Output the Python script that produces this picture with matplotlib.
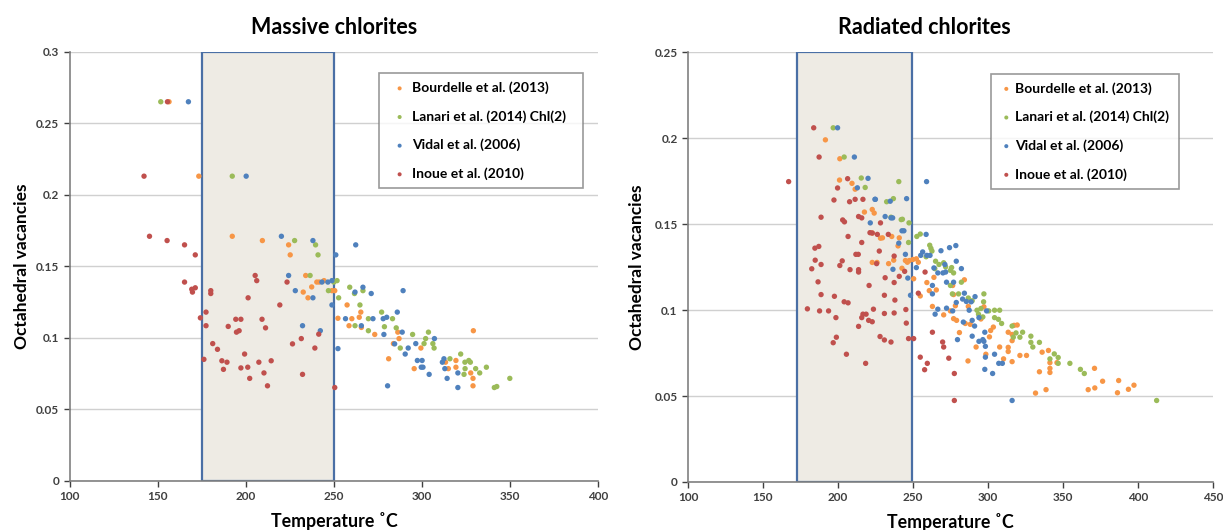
import matplotlib
matplotlib.use("Agg")
import matplotlib.pyplot as plt

plt.rcParams['font.family'] = ['Lato', 'DejaVu Sans']
plt.rcParams['font.weight'] = 'bold'

# colours (Excel 2010 theme)
ORANGE = '#F79646'
GREEN = '#9BBB59'
BLUE = '#4F81BD'
RED = '#C0504D'

labels = ['Bourdelle et al. (2013)', 'Lanari et al. (2014) Chl(2)',
          'Vidal et al. (2006)', 'Inoue et al. (2010)']

# ---------------- Massive chlorites ----------------
m_bourdelle_t = [156.4, 173.3, 192.3, 209.4, 224.3, 225.2, 234, 232.6, 235.3, 237.4, 240.3, 241.7,
                 244.4, 248.9, 250.5, 257.5, 252.3, 260.2, 258.6, 264.4, 265.3, 265.6, 273.2, 287,
                 286.3, 283.8, 281.1, 299.4, 295.6, 319.3, 313.4, 315, 319.3, 327.7, 329, 329, 329.2]
m_bourdelle_v = [0.265, 0.213, 0.171, 0.168, 0.165, 0.158, 0.1436, 0.132, 0.128, 0.1356, 0.139, 0.139,
                 0.140, 0.133, 0.133, 0.123, 0.1137, 0.1134, 0.1085, 0.1144, 0.118, 0.1073, 0.1024, 0.0995,
                 0.104, 0.096, 0.0854, 0.0929, 0.0785, 0.0842, 0.083, 0.0785, 0.0795, 0.0755, 0.0717, 0.0665, 0.105]

m_lanari_t = [151.7, 192.3, 227.7, 239.6, 241, 236.5, 246.9, 250, 251.8, 252.7, 259, 261.7, 266.5,
              264.8, 262, 269.6, 269.6, 277.1, 278.7, 283.3, 285.4, 287.7, 294.7, 303.7, 301.2, 302.1,
              306.2, 306.9, 315.9, 322, 324.4, 326.6, 327.5, 324.5, 323.9, 330.5, 332.8, 336.6, 341.1,
              342.5, 349.9]
m_lanari_v = [0.265, 0.213, 0.168, 0.165, 0.158, 0.1436, 0.133, 0.139, 0.140, 0.128, 0.1354, 0.131, 0.133,
              0.123, 0.1085, 0.1134, 0.105, 0.118, 0.1078, 0.1134, 0.107, 0.0929, 0.1024, 0.104, 0.096, 0.0995,
              0.096, 0.0929, 0.0854, 0.0887, 0.083, 0.0842, 0.083, 0.0785, 0.0745, 0.0785, 0.0755, 0.0795, 0.0653,
              0.066, 0.0717]

m_vidal_t = [167.4, 200.2, 220.2, 238.1, 262.4, 251.1, 224.3, 228.1, 238.1, 243.2, 246.6, 248.9, 248.9,
             232.2, 242.3, 252.3, 256.6, 262, 266.5, 271.2, 265.6, 272.2, 278, 280, 278.4, 286, 288.8,
             289.3, 284.5, 290.5, 292.2, 296.5, 297.4, 300.1, 300.6, 299.6, 307.1, 304.1, 311.6, 312.5,
             313, 314.3, 320.4, 320.4, 280.5]
m_vidal_v = [0.265, 0.213, 0.171, 0.168, 0.165, 0.158, 0.1436, 0.133, 0.128, 0.139, 0.139, 0.140, 0.123,
             0.1085, 0.105, 0.0925, 0.1134, 0.132, 0.1354, 0.131, 0.1085, 0.1134, 0.1134, 0.1144, 0.1024, 0.118, 0.104,
             0.133, 0.0958, 0.0887, 0.0929, 0.096, 0.0842, 0.0842, 0.0795, 0.0795, 0.0995, 0.0745, 0.083, 0.0854,
             0.0785, 0.0717, 0.0755, 0.0653, 0.0665]

m_inoue_t = [142.2, 145.3, 155.3, 155.5, 165.2, 171.3, 165.2, 169.3, 169.7, 171.3, 174.2, 177.4, 177.4,
             176.2, 180.1, 180.1, 181.2, 183.9, 186.4, 187.3, 189.3, 190, 194.3, 197.2, 194.7, 196.2,
             197.2, 199.3, 201.1, 201.3, 202.2, 205.3, 206.2, 207.4, 209.2, 210.3, 211.2, 212.3, 214.4,
             219.3, 223.4, 226.5, 231.5, 232.2, 239.2, 241.4, 250.5]
m_inoue_v = [0.213, 0.171, 0.168, 0.265, 0.165, 0.158, 0.139, 0.134, 0.132, 0.135, 0.114, 0.118, 0.1085,
             0.085, 0.133, 0.131, 0.096, 0.092, 0.084, 0.078, 0.083, 0.108, 0.113, 0.113, 0.104, 0.105,
             0.079, 0.0887, 0.0795, 0.128, 0.0717, 0.1436, 0.140, 0.083, 0.113, 0.0755, 0.107, 0.0665, 0.084,
             0.123, 0.139, 0.0958, 0.0995, 0.0745, 0.0929, 0.1026, 0.0653]

# ---------------- Radiated chlorites ----------------
r_bourdelle_t = [191.6, 201.2, 201, 209.3, 211.4, 217.6, 222.8, 224.1, 222.8, 228.3, 229.6, 235.8, 240.8,
                 240, 222.8, 226, 233.7, 237.1, 242.6, 244.9, 246.2, 247.5, 249.9, 252.2, 253.5, 250.4,
                 254.8, 259.2, 260.8, 263.9, 265.5, 262.9, 270.4, 274.9, 276.4, 277, 278.2, 277, 279,
                 284.2, 280.9, 284.8, 286.8, 286.6, 288.1, 292, 295.2, 297.2, 298.5, 300.9, 301.7, 303.5,
                 307.7, 310.3, 313.4, 313.4, 313.4, 316, 316, 317.3, 319.4, 316, 321.2, 325.6, 331.6,
                 334.2, 336, 340.2, 338.6, 341.2, 341.2, 341.2, 345.9, 366.7, 370.9, 371.1, 376.3, 386.2,
                 387, 393.5, 397.2]
r_bourdelle_v = [0.199, 0.188, 0.1756, 0.1737, 0.1703, 0.157, 0.1585, 0.1564, 0.1448, 0.1418, 0.142, 0.1428, 0.142,
                 0.1373, 0.1277, 0.1277, 0.127, 0.129, 0.1243, 0.1288, 0.1278, 0.1288, 0.1294, 0.1298, 0.1278, 0.1182,
                 0.1082, 0.116, 0.1113, 0.119, 0.1117, 0.1021, 0.0972, 0.0995, 0.1143, 0.109, 0.1025, 0.095, 0.094,
                 0.1176, 0.0869, 0.0922, 0.1021, 0.0704, 0.0917, 0.0785, 0.0948, 0.1019, 0.0743, 0.0844, 0.0881, 0.0901,
                 0.0785, 0.0716, 0.0871, 0.0783, 0.0759, 0.0858, 0.0822, 0.0911, 0.0913, 0.07, 0.0736, 0.0736, 0.0517,
                 0.0641, 0.0755, 0.0765, 0.0537, 0.0694, 0.0637, 0.0661, 0.0694, 0.0537, 0.0661, 0.0547, 0.0586, 0.0519,
                 0.059, 0.0539, 0.0563]

r_lanari_t = [196.8, 204.1, 215.5, 218.1, 240.5, 232.4, 236.9, 235.3, 242.1, 242.9, 247.3, 247, 252.5,
              254.8, 261.1, 261.9, 262.6, 258.7, 265, 264.5, 267.3, 270.4, 271.7, 274.9, 275.7, 277,
              274.9, 276.2, 280.3, 282.2, 286.8, 289.4, 292.6, 293.6, 295.2, 296.5, 297, 297.2, 300.4,
              304.3, 304.3, 306.9, 307.7, 309, 316, 316.8, 318.6, 321.2, 323, 328.5, 328.5, 329.8,
              334.2, 341.2, 344.1, 346.7, 346.7, 354.5, 361.5, 364.1, 412.3]
r_lanari_v = [0.206, 0.189, 0.1768, 0.1713, 0.1747, 0.163, 0.1648, 0.154, 0.1526, 0.1528, 0.1507, 0.1393, 0.1428,
              0.1442, 0.1377, 0.1359, 0.1343, 0.131, 0.1284, 0.1241, 0.1265, 0.1275, 0.1251, 0.1231, 0.1247, 0.1216,
              0.1143, 0.1094, 0.1094, 0.1162, 0.107, 0.1054, 0.0999, 0.0976, 0.1009, 0.096, 0.1048, 0.1094, 0.0995,
              0.0999, 0.0956, 0.0946, 0.0999, 0.0922, 0.0907, 0.0842, 0.0867, 0.0842, 0.0871, 0.0848, 0.0812, 0.0785,
              0.0812, 0.0716, 0.0745, 0.0724, 0.069, 0.069, 0.0655, 0.0631, 0.0474]

r_vidal_t = [199.7, 210.9, 212.9, 220, 224.6, 245.7, 259, 224.9, 231.4, 235.3, 236.4, 234.8, 221.5,
             242.6, 240.5, 243.9, 236.6, 244.9, 246.5, 248.3, 252.2, 255.1, 256.4, 258.7, 259.2, 261.3,
             263.9, 262.9, 262.9, 266.5, 268.6, 264.7, 266.5, 269.9, 271.2, 271.7, 272.3, 272.3, 274.3,
             278.5, 278.8, 277, 276.4, 278.8, 279.6, 282.2, 283, 283.5, 284.2, 285.5, 287.4, 288.7,
             289.4, 291, 291.3, 289.4, 293.9, 293.9, 296.5, 297.2, 298.2, 297.8, 298.2, 299, 303,
             304.3, 307.1, 309.5, 316, 297.8]
r_vidal_v = [0.206, 0.189, 0.1711, 0.1766, 0.1644, 0.1648, 0.1747, 0.1644, 0.1544, 0.1536, 0.1536, 0.1633, 0.1507,
             0.1461, 0.1389, 0.1461, 0.1237, 0.1324, 0.1186, 0.1086, 0.1247, 0.1318, 0.1338, 0.144, 0.1318, 0.1318,
             0.1245, 0.1143, 0.1094, 0.1216, 0.1345, 0.0976, 0.1005, 0.1216, 0.1265, 0.1221, 0.1162, 0.1011, 0.1363,
             0.1375, 0.1284, 0.1162, 0.0995, 0.1044, 0.0828, 0.1241, 0.1064, 0.093, 0.1098, 0.105, 0.0999, 0.1048,
             0.094, 0.0907, 0.1078, 0.0848, 0.0956, 0.0818, 0.0828, 0.0818, 0.0726, 0.0655, 0.0789, 0.0995, 0.0631,
             0.0743, 0.069, 0.069, 0.0474, 0.0871]

r_inoue_t = [167.1, 183.8, 187.4, 188.7, 184.6, 187.2, 184.8, 188.7, 182.5, 186.7, 188.7, 179.6, 187.7,
             193.7, 197.3, 199.7, 197.6, 198.6, 196.8, 198.9, 201.2, 202.8, 206.4, 207.7, 203.1, 204.3,
             206.7, 208, 204.1, 206.7, 205.6, 213.7, 215.8, 218.7, 216.6, 218.4, 211.4, 216.6, 213.7,
             215.8, 215.8, 211.9, 213.5, 213.7, 213.7, 220.7, 220.4, 222.8, 221.3, 222.8, 226.2, 228.3,
             225.7, 223.6, 227.5, 228, 230.9, 230.9, 231.4, 230.9, 233.5, 235.3, 237.4, 237.4, 237.9,
             237.4, 240.8, 245.2, 245.5, 247, 250.4, 244.4, 253.5, 254.8, 258, 259.5, 257.7, 262.9,
             269.7, 270.4, 273.8, 277.5, 277.5]
r_inoue_v = [0.1747, 0.206, 0.189, 0.154, 0.136, 0.137, 0.129, 0.1265, 0.124, 0.1164, 0.109, 0.1007, 0.0995,
             0.0995, 0.164, 0.171, 0.108, 0.0956, 0.081, 0.0842, 0.1259, 0.1286, 0.1764, 0.163, 0.1524, 0.1513,
             0.1428, 0.1235, 0.1048, 0.1042, 0.0743, 0.0905, 0.0956, 0.0976, 0.0976, 0.069, 0.1644, 0.1644, 0.1544,
             0.1536, 0.1393, 0.1324, 0.1324, 0.1235, 0.1221, 0.1143, 0.094, 0.0932, 0.145, 0.1448, 0.144, 0.1507,
             0.127, 0.1005, 0.1343, 0.0846, 0.0826, 0.1086, 0.1188, 0.098, 0.144, 0.0814, 0.1314, 0.116, 0.1058,
             0.0983, 0.1196, 0.1003, 0.0924, 0.0834, 0.0834, 0.1225, 0.1098, 0.0726, 0.1221, 0.069, 0.0653, 0.0871,
             0.0814, 0.0785, 0.072, 0.0631, 0.0474]

massive = [(m_bourdelle_t, m_bourdelle_v, ORANGE), (m_lanari_t, m_lanari_v, GREEN),
           (m_vidal_t, m_vidal_v, BLUE), (m_inoue_t, m_inoue_v, RED)]
radiated = [(r_bourdelle_t, r_bourdelle_v, ORANGE), (r_lanari_t, r_lanari_v, GREEN),
            (r_vidal_t, r_vidal_v, BLUE), (r_inoue_t, r_inoue_v, RED)]


def draw_panel(ax, series, title, title_x, span, xlim, xticks, yticks, ylabels, leg_box, hlen, htpad, ylpad):
    ax.axvspan(span[0], span[1], facecolor='#EEEBE4', edgecolor='#4A6FA5', lw=1.6, zorder=1)
    for (t, v, c), lab in zip(series, labels):
        ax.scatter(t, v, s=15, color=c, edgecolors='none', label=lab, zorder=3)
    ax.set_xlim(*xlim)
    ax.set_ylim(0, yticks[-1])
    ax.set_xticks(xticks)
    ax.set_xticklabels([str(x) for x in xticks])
    ax.set_yticks(yticks)
    ax.set_yticklabels(ylabels)
    ax.tick_params(labelsize=8.5, colors='#404040', length=4, width=1)
    for lbl in ax.get_xticklabels() + ax.get_yticklabels():
        lbl.set_fontweight('bold')
    ax.grid(axis='y', color='#D0D0D0', lw=1)
    ax.set_axisbelow(True)
    for s in ['top', 'right']:
        ax.spines[s].set_visible(False)
    for s in ['left', 'bottom']:
        ax.spines[s].set_color('#808080')
        ax.spines[s].set_linewidth(1.2)
    ax.set_title(title, fontsize=15.5, fontweight='bold', x=title_x, pad=13)
    ax.set_xlabel('Temperature ˚C', fontsize=12.8, fontweight='bold', labelpad=7)
    ax.set_ylabel('Octahedral vacancies', fontsize=12.5, fontweight='bold', labelpad=ylpad)
    leg = ax.legend(loc='upper left', bbox_to_anchor=leg_box, mode='expand', frameon=True, fancybox=False,
                    edgecolor='#808080', markerscale=0.75, handletextpad=htpad,
                    labelspacing=1.15, borderpad=0.6, handlelength=hlen, borderaxespad=0,
                    prop={'weight': 'bold', 'size': 10})
    leg.get_frame().set_linewidth(1.2)


fig = plt.figure(figsize=(12.23, 5.3), dpi=100)
ax1 = fig.add_axes([0.057, 0.0925, 0.432, 0.81])
ax2 = fig.add_axes([0.5625, 0.0906, 0.4295, 0.811])

draw_panel(ax1, massive, 'Massive chlorites', 0.5, (175, 250), (100, 400),
           [100, 150, 200, 250, 300, 350, 400],
           [0, 0.05, 0.1, 0.15, 0.2, 0.25, 0.3], ['0', '0.05', '0.1', '0.15', '0.2', '0.25', '0.3'],
           (0.585, 0.68, 0.386, 0.27), 1.8, 0.0, 4)
draw_panel(ax2, radiated, 'Radiated chlorites', 0.45, (173, 249), (100, 450),
           [100, 150, 200, 250, 300, 350, 400, 450],
           [0, 0.05, 0.1, 0.15, 0.2, 0.25], ['0', '0.05', '0.1', '0.15', '0.2', '0.25'],
           (0.577, 0.68, 0.358, 0.27), 1.0, 0.15, 7)

fig.savefig('out.png', dpi=100)
